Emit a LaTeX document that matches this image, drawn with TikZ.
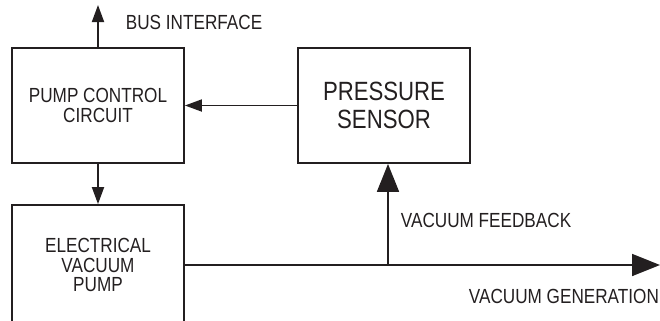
\documentclass[tikz,border=0pt]{standalone}
\usepackage{fontspec}
\usepackage{tikz}
\usetikzlibrary{arrows.meta,positioning}
\newfontfamily\diagfont[FakeStretch=0.84]{Liberation Sans}
\definecolor{inkgray}{HTML}{231F20}

\begin{document}
\begin{tikzpicture}[
    x=1bp,y=-1bp,
    line width=1.8bp,inkgray,
    block/.style={draw=inkgray,line width=1.8bp,minimum width=172bp,minimum height=115bp,
                  align=center,inner sep=0pt,text=inkgray,font=\diagfont\fontsize{20.5}{21}\selectfont},
    flow/.style={-{Triangle[length=17bp,width=12bp]},line width=1.8bp,inkgray},
    bigflow/.style={-{Triangle[length=28bp,width=22bp]},line width=1.8bp,inkgray},
    note/.style={anchor=base west,inner sep=0pt,text=inkgray,font=\diagfont\fontsize{20.5}{21}\selectfont}
  ]
    \useasboundingbox (0,0) rectangle (660,320);
    \node[block] (ctrl) at (98,105.5) {PUMP CONTROL\\CIRCUIT};
    \node[block,font=\diagfont\fontsize{26.5}{28}\selectfont] (sensor) at (384,105.5) {PRESSURE\\SENSOR};
    \node[block,minimum height=120bp,font=\diagfont\fontsize{20.5}{20}\selectfont] (pump) at (98,265) {ELECTRICAL\\VACUUM\\PUMP};

    \coordinate (bus) at (98,5);
    \coordinate (tap) at (388,265);
    \coordinate (out) at (660,265);

    \draw[flow] (ctrl.north) -- (bus);
    \draw[flow] (sensor.west) -- (ctrl.east);
    \draw[flow] (ctrl.south) -- (pump.north);
    \draw[bigflow] (pump.east) -- (out);
    \draw[bigflow] (tap) -- (tap |- sensor.south);

    \node[note] (buslbl) at (125,29) {BUS INTERFACE};
    \node[note] (fblbl) at (400,227) {VACUUM FEEDBACK};
    \node[note] (genlbl) at (468,303) {VACUUM GENERATION};
  \end{tikzpicture}
\end{document}
